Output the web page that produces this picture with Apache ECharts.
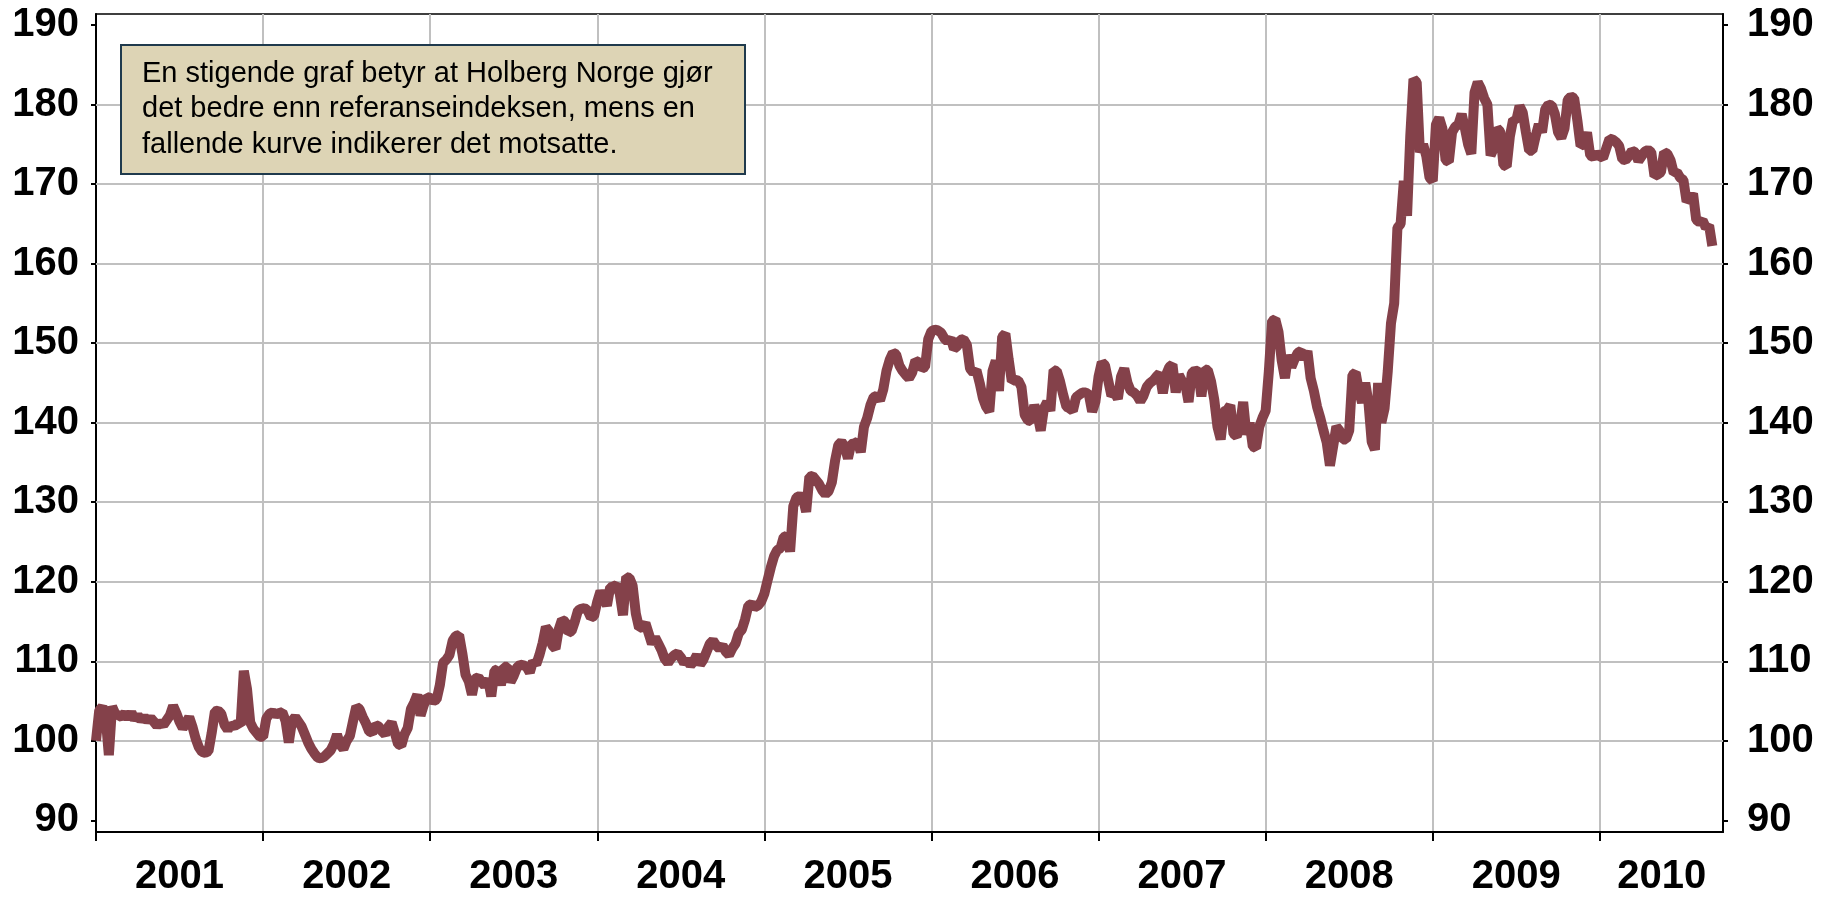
<!DOCTYPE html>
<html>
<head>
<meta charset="utf-8">
<script src="https://cdn.jsdelivr.net/npm/echarts@6/dist/echarts.min.js"></script>
<style>
  html, body { margin: 0; padding: 0; background: #fff; }
  #chart { width: 1831px; height: 899px; }
</style>
</head>
<body>
<div id="chart"></div>
<script>
// weekly index values, one array per year (52 weeks, 2010 runs to September)
const y2001 = [100.0, 103.8, 104.3, 103.0, 98.2, 104.3, 103.4, 103.2, 103.0, 103.5, 102.8, 103.6, 102.7, 103.2, 102.6, 103.0, 102.5, 102.9, 102.4, 101.9, 102.3, 102.0, 102.6, 103.2, 104.4, 103.5, 102.4, 101.6, 102.2, 103.0, 101.8, 100.3, 99.2, 98.6, 98.5, 98.7, 101.0, 103.7, 103.8, 103.4, 102.0, 101.4, 102.0, 101.8, 102.2, 102.0, 108.8, 106.5, 102.3, 101.5, 101.0, 100.5]
const y2002 = [100.5, 102.8, 103.4, 103.6, 103.3, 103.5, 103.6, 102.5, 99.8, 102.5, 103.0, 102.4, 101.8, 100.8, 99.8, 99.0, 98.4, 97.9, 97.8, 98.0, 98.4, 98.8, 99.6, 100.8, 99.5, 99.0, 100.0, 100.6, 102.5, 104.3, 104.0, 103.0, 102.2, 101.2, 101.0, 102.0, 101.8, 101.2, 100.8, 101.8, 102.3, 101.0, 99.6, 99.4, 100.8, 101.6, 104.0, 104.8, 105.8, 103.2, 104.5, 105.5]
const y2003 = [105.4, 105.0, 105.2, 107.0, 109.8, 110.2, 110.8, 112.6, 113.2, 113.3, 111.0, 108.3, 107.5, 105.8, 107.8, 108.0, 107.4, 106.9, 107.8, 105.6, 108.8, 109.0, 107.0, 109.3, 109.3, 107.4, 108.2, 109.2, 109.6, 109.5, 109.3, 108.6, 110.0, 109.6, 110.8, 112.3, 114.3, 113.8, 112.0, 111.6, 114.0, 115.2, 115.0, 113.6, 113.8, 115.0, 116.4, 116.6, 116.7, 116.4, 115.5, 115.7]
const y2004 = [117.5, 118.8, 118.0, 117.0, 119.3, 119.4, 119.6, 118.5, 115.8, 120.6, 120.5, 119.5, 116.0, 114.2, 114.3, 114.8, 113.5, 112.2, 113.0, 112.2, 111.4, 110.3, 109.8, 110.4, 110.8, 111.0, 110.5, 109.8, 110.2, 109.5, 110.0, 110.8, 109.6, 110.2, 111.2, 112.2, 112.6, 112.0, 111.6, 112.0, 111.2, 110.8, 111.6, 112.2, 113.5, 114.0, 115.3, 117.0, 117.2, 116.8, 117.0, 117.5]
const y2005 = [118.5, 120.2, 121.8, 123.2, 124.0, 124.2, 125.6, 125.8, 123.8, 129.5, 130.6, 130.8, 130.5, 128.8, 133.2, 133.3, 132.8, 132.3, 131.5, 131.0, 131.4, 132.5, 135.2, 137.2, 137.6, 137.0, 135.5, 137.3, 137.4, 137.6, 136.3, 139.5, 140.6, 142.2, 143.2, 143.4, 142.8, 144.2, 146.5, 147.9, 148.8, 148.6, 147.2, 146.5, 146.0, 145.6, 146.3, 147.8, 147.6, 146.8, 147.0, 150.5]
const y2006 = [151.5, 151.7, 151.6, 151.3, 150.6, 150.2, 150.6, 149.3, 149.6, 150.4, 150.5, 149.8, 146.8, 146.3, 146.6, 145.0, 143.1, 142.0, 141.4, 146.5, 147.8, 144.0, 150.8, 151.2, 148.0, 145.2, 145.4, 145.3, 144.5, 141.0, 140.3, 140.2, 142.2, 141.0, 139.0, 141.8, 142.6, 141.5, 146.6, 146.5, 145.2, 143.5, 142.0, 141.8, 141.5, 143.2, 143.5, 143.8, 143.8, 143.5, 141.4, 142.6]
const y2007 = [145.8, 147.6, 147.2, 145.3, 143.4, 143.8, 143.0, 145.8, 146.8, 145.0, 144.0, 143.8, 143.4, 142.7, 143.4, 144.5, 145.0, 145.3, 145.8, 146.2, 143.7, 146.0, 147.0, 147.3, 143.8, 146.0, 145.2, 144.8, 142.6, 146.2, 146.6, 146.4, 143.3, 146.7, 146.6, 145.2, 142.9, 139.5, 137.9, 141.4, 141.6, 142.2, 138.6, 138.3, 139.5, 142.6, 138.5, 140.0, 137.0, 136.8, 139.5, 140.6]
const y2008 = [141.5, 146.5, 152.8, 153.0, 151.4, 147.8, 145.6, 148.5, 147.0, 148.0, 148.8, 149.0, 148.0, 149.0, 145.6, 144.0, 142.0, 140.6, 139.0, 137.5, 134.6, 137.0, 139.5, 139.0, 137.9, 137.9, 139.0, 146.0, 146.3, 144.0, 142.5, 145.0, 142.5, 137.6, 136.6, 145.0, 140.0, 141.8, 146.5, 152.5, 155.0, 164.5, 165.0, 170.4, 166.0, 176.0, 183.2, 182.8, 174.0, 175.0, 173.5, 170.8]
const y2009 = [170.4, 177.5, 178.3, 177.0, 173.0, 172.8, 176.5, 177.2, 177.5, 178.8, 177.0, 175.0, 173.8, 181.5, 182.8, 182.0, 180.8, 180.0, 173.6, 174.5, 177.0, 176.6, 172.4, 172.2, 176.0, 178.1, 178.0, 179.8, 179.0, 176.5, 174.2, 174.2, 176.0, 177.5, 176.5, 179.4, 180.0, 179.9, 178.8, 176.5, 175.8, 177.0, 180.6, 181.0, 180.8, 178.0, 174.8, 175.0, 176.5, 173.6, 173.4, 173.8]
const y2010 = [173.5, 173.3, 174.5, 175.7, 175.6, 175.3, 174.8, 173.1, 173.0, 173.5, 174.2, 174.0, 172.9, 173.5, 174.1, 174.3, 174.0, 171.0, 171.2, 171.5, 174.0, 173.8, 173.0, 171.4, 171.5, 170.8, 170.5, 167.8, 168.2, 168.8, 165.5, 165.2, 165.4, 164.5, 164.8, 162.2]

const years = [2001, 2002, 2003, 2004, 2005, 2006, 2007, 2008, 2009, 2010]
const yearLabelPos = [2001.5, 2002.5, 2003.5, 2004.5, 2005.5, 2006.5, 2007.5, 2008.5, 2009.5, 2010.37]
const yTicks = [90, 100, 110, 120, 130, 140, 150, 160, 170, 180, 190]
const yGridLines = [100, 110, 120, 130, 140, 150, 160, 170, 180]
const noteText = 'En stigende graf betyr at Holberg Norge gjør\ndet bedre enn referanseindeksen, mens en\nfallende kurve indikerer det motsatte.'

const byYear = [y2001, y2002, y2003, y2004, y2005, y2006, y2007, y2008, y2009, y2010]
const points = []
byYear.forEach((vals, i) => {
  vals.forEach((v, k) => points.push([years[i] + k / 52, v]))
})

const font = 'Liberation Sans'
const axisLabelStyle = {
  color: '#000',
  fontSize: 40,
  fontWeight: 'bold',
  fontFamily: font
}

const chart = echarts.init(document.getElementById('chart'))
chart.setOption({
  animation: false,
  grid: {
    left: 96,
    right: 108,
    top: 14,
    bottom: 67,
    show: true,
    borderColor: '#000',
    borderWidth: 1.5,
    outerBoundsMode: 'none'
  },
  xAxis: {
    type: 'value',
    min: 2001,
    max: 2010.737,
    interval: 1,
    axisLine: { lineStyle: { color: '#000', width: 2 } },
    axisTick: { customValues: years, length: 9, lineStyle: { color: '#000', width: 2 } },
    axisLabel: {
      ...axisLabelStyle,
      customValues: yearLabelPos,
      margin: 25,
      formatter: v => String(Math.floor(v))
    },
    splitLine: { show: true, lineStyle: { color: '#c0c0c0', width: 2 } }
  },
  yAxis: [{
    type: 'value',
    position: 'left',
    min: 88.54,
    max: 191.38,
    axisLine: { show: true, lineStyle: { color: '#000', width: 2 } },
    axisTick: { show: true, customValues: yTicks, length: 5, lineStyle: { color: '#000', width: 2 } },
    axisLabel: { ...axisLabelStyle, customValues: yTicks, margin: 17 },
    splitLine: { show: false }
  }, {
    type: 'value',
    position: 'right',
    min: 88.54,
    max: 191.38,
    axisLine: { show: true, lineStyle: { color: '#000', width: 2 } },
    axisTick: { show: true, customValues: yTicks, length: 5, lineStyle: { color: '#000', width: 2 } },
    axisLabel: { ...axisLabelStyle, customValues: yTicks, margin: 24 },
    splitLine: { show: false }
  }],
  series: [{
    type: 'line',
    data: points,
    showSymbol: false,
    symbol: 'none',
    lineStyle: { color: '#84414a', width: 10 },
    markLine: {
      silent: true,
      symbol: 'none',
      z: 1,
      label: { show: false },
      lineStyle: { color: '#c0c0c0', width: 2, type: 'solid' },
      data: yGridLines.map(v => ({ yAxis: v }))
    }
  }],
  graphic: [{
    type: 'group',
    left: 120,
    top: 44,
    z: 100,
    children: [{
      type: 'rect',
      z: 100,
      shape: { x: 0, y: 0, width: 624, height: 129 },
      style: { fill: '#ddd4b5', stroke: '#1f3a4d', lineWidth: 2 }
    }, {
      type: 'text',
      z: 101,
      x: 21,
      y: 11,
      style: {
        text: noteText,
        fill: '#000',
        font: '29px "Liberation Sans"',
        lineHeight: 35.5
      }
    }]
  }]
})
</script>
</body>
</html>
